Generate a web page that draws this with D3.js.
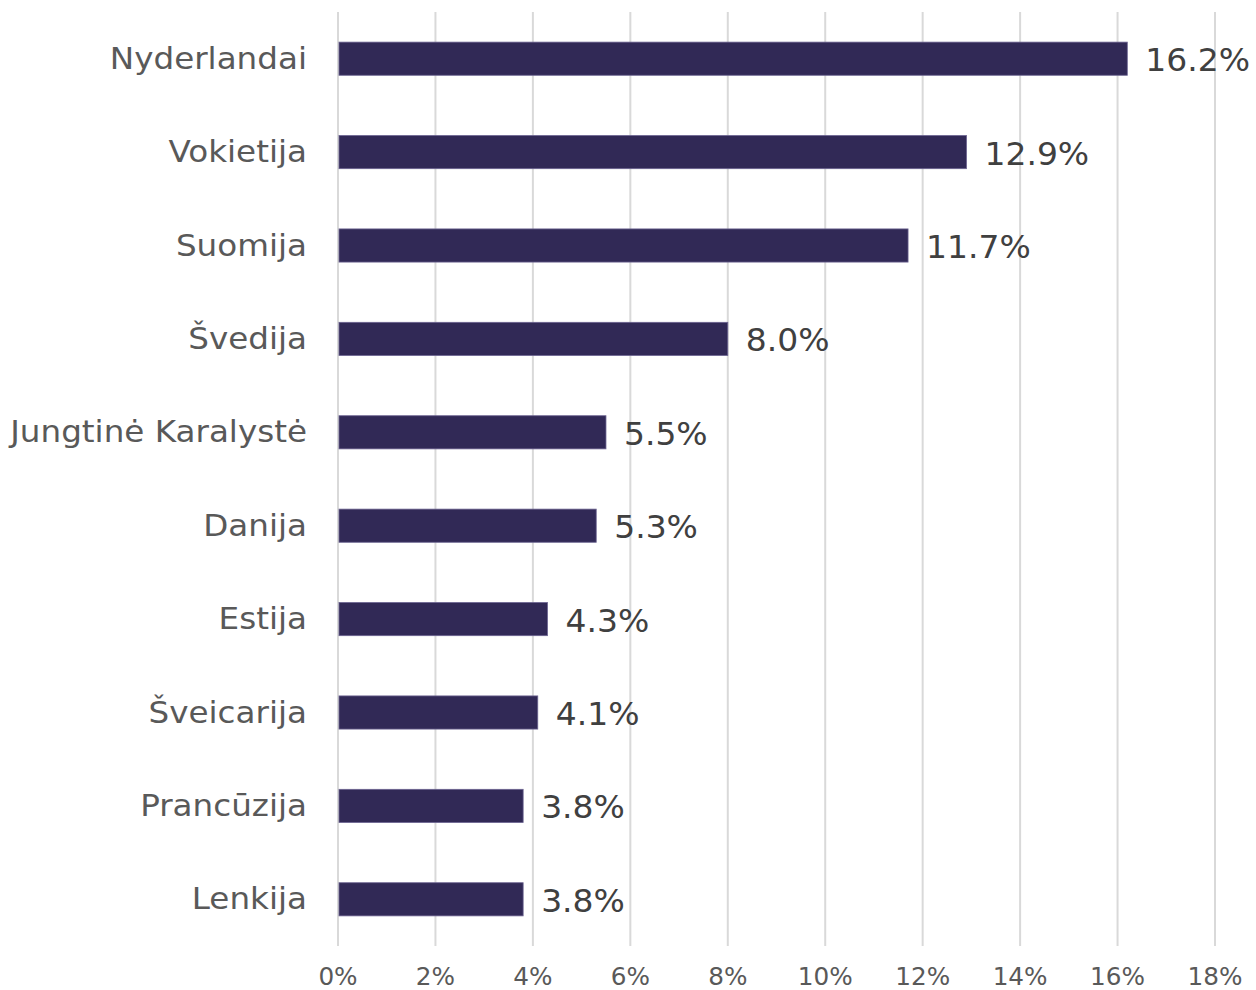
<!DOCTYPE html>
<html><head><meta charset="utf-8">
<script src="https://cdn.jsdelivr.net/npm/d3@7"></script>
<style>body{margin:0;background:#fff;}svg{display:block;}</style>
</head><body>
<svg id="c" width="1256" height="990"></svg>
<script>
const categories = ["Nyderlandai","Vokietija","Suomija","Švedija","Jungtinė Karalystė","Danija","Estija","Šveicarija","Prancūzija","Lenkija"];
const values = [16.2,12.9,11.7,8.0,5.5,5.3,4.3,4.1,3.8,3.8];
const ticks = [0,2,4,6,8,10,12,14,16,18];

const svg = d3.select("#c");
const x = d3.scaleLinear().domain([0,18]).range([338,1215]);
const y = d3.scaleBand().domain(categories).range([12,946]).paddingInner(0.645).paddingOuter(0.3225);
const font = "DejaVu Sans, Verdana, sans-serif";

svg.append("g").selectAll("line").data(ticks).join("line")
  .attr("x1",d=>x(d)).attr("x2",d=>x(d)).attr("y1",12).attr("y2",946)
  .attr("stroke","#d9d9d9").attr("stroke-width",2);

svg.append("g").selectAll("g").data(ticks).join("g")
  .attr("transform",d=>`translate(${x(d)},985) scale(1.03,1)`)
  .append("text").attr("text-anchor","middle")
  .attr("font-family",font).attr("font-size",24).attr("fill","#595959")
  .text(d=>d+"%");

svg.append("g").selectAll("rect").data(values).join("rect")
  .attr("x",x(0)+1).attr("y",(d,i)=>y(categories[i]))
  .attr("width",d=>x(d)-x(0)-1).attr("height",y.bandwidth())
  .attr("fill","#312956").attr("stroke","#6b6390").attr("stroke-width",0.8);

svg.append("g").selectAll("g").data(categories).join("g")
  .attr("transform",d=>`translate(307,${y(d)+y.bandwidth()/2+10}) scale(1.105,1)`)
  .append("text").attr("text-anchor","end")
  .attr("font-family",font).attr("font-size",29.5).attr("fill","#595959")
  .text(d=>d);

svg.append("g").selectAll("g").data(values).join("g")
  .attr("transform",(d,i)=>`translate(${x(d)+18},${y(categories[i])+y.bandwidth()/2+12.5}) scale(1.03,1)`)
  .append("text")
  .attr("font-family",font).attr("font-size",32).attr("fill","#404040")
  .text(d=>d.toFixed(1)+"%");
</script>
</body></html>
